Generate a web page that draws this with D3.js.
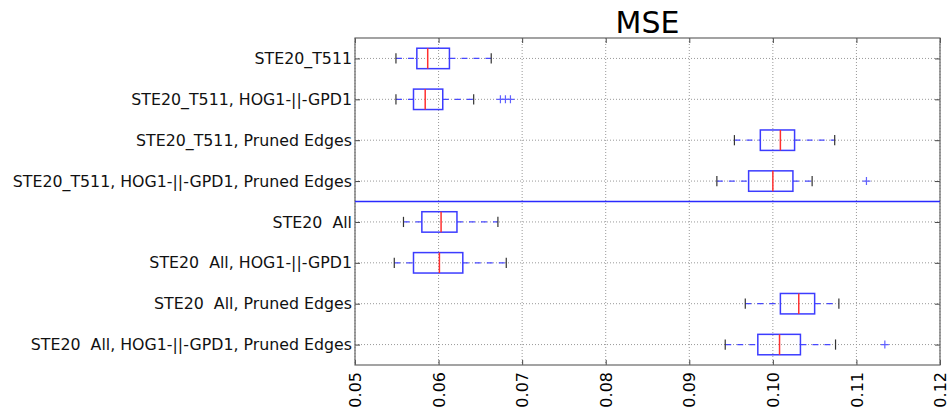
<!DOCTYPE html>
<html>
<head>
<meta charset="utf-8">
<script src="https://cdn.jsdelivr.net/npm/d3@7"></script>
<style>
body { margin: 0; background: #fff; }
text { font-family: "DejaVu Sans", sans-serif; white-space: pre; }
</style>
</head>
<body>
<div id="chart"></div>
<script>
var width = 949, height = 414;
var margin = {top: 38, right: 9, bottom: 49, left: 355};

// categories, top to bottom
var labels = [
  "STE20_T511",
  "STE20_T511, HOG1-||-GPD1",
  "STE20_T511, Pruned Edges",
  "STE20_T511, HOG1-||-GPD1, Pruned Edges",
  "STE20  All",
  "STE20  All, HOG1-||-GPD1",
  "STE20  All, Pruned Edges",
  "STE20  All, HOG1-||-GPD1, Pruned Edges"
];
// box stats
var whiskLow  = [0.0549, 0.0549, 0.0954, 0.0933, 0.0558, 0.0547, 0.0967, 0.0943];
var q1        = [0.0574, 0.0570, 0.0985, 0.0971, 0.0580, 0.0570, 0.1009, 0.0982];
var median    = [0.0587, 0.0584, 0.1009, 0.1000, 0.0603, 0.0601, 0.1031, 0.1008];
var q3        = [0.0613, 0.0605, 0.1026, 0.1024, 0.0622, 0.0629, 0.1050, 0.1033];
var whiskHigh = [0.0663, 0.0642, 0.1074, 0.1047, 0.0671, 0.0681, 0.1079, 0.1075];
var fliers    = [[], [0.0674, 0.0680, 0.0686], [], [0.1112], [], [], [], [0.1134]];
var xTicks = [0.05, 0.06, 0.07, 0.08, 0.09, 0.10, 0.11, 0.12];
var dividerAt = 4.5;

var data = labels.map(function(l, i) {
  return {label: l, pos: i + 1, lo: whiskLow[i], q1: q1[i], med: median[i],
          q3: q3[i], hi: whiskHigh[i], fl: fliers[i]};
});

var w = width - margin.left - margin.right;
var h = height - margin.top - margin.bottom;

var x = d3.scaleLinear().domain([0.05, 0.12]).range([0, w]);
var y = d3.scaleLinear().domain([0.5, 8.5]).range([0, h]);

var svg = d3.select("#chart").append("svg")
    .attr("width", width)
    .attr("height", height);
var g = svg.append("g")
    .attr("transform", "translate(" + margin.left + "," + margin.top + ")");

// grid
g.selectAll(".gx").data(xTicks).enter().append("line")
    .attr("x1", function(d) { return x(d); }).attr("x2", function(d) { return x(d); })
    .attr("y1", 0).attr("y2", h)
    .attr("stroke", "#999").attr("stroke-width", 1).attr("stroke-dasharray", "1,2");
g.selectAll(".gy").data(data).enter().append("line")
    .attr("x1", 0).attr("x2", w)
    .attr("y1", function(d) { return y(d.pos); }).attr("y2", function(d) { return y(d.pos); })
    .attr("stroke", "#999").attr("stroke-width", 1).attr("stroke-dasharray", "1,2");

// axes
var xAxis = g.append("g").attr("transform", "translate(0," + h + ")")
    .call(d3.axisBottom(x).tickValues(xTicks).tickFormat(d3.format(".2f")).tickSizeInner(-5).tickSizeOuter(0));
xAxis.selectAll("text")
    .attr("transform", "rotate(-90)")
    .attr("x", -7).attr("y", 0).attr("dy", "0.35em")
    .style("text-anchor", "end")
    .style("font-size", "16px").attr("fill", "#000");
var xTop = g.append("g")
    .call(d3.axisTop(x).tickValues(xTicks).tickSizeInner(-5).tickSizeOuter(0).tickFormat(""));

var yAxis = g.append("g")
    .call(d3.axisLeft(y).tickValues(data.map(function(d) { return d.pos; }))
      .tickFormat(function(d, i) { return labels[i]; }).tickSizeInner(-5).tickSizeOuter(0));
yAxis.selectAll("text").attr("x", -3).style("font-size", "15.8px").attr("fill", "#111");
var yRight = g.append("g").attr("transform", "translate(" + w + ",0)")
    .call(d3.axisRight(y).tickValues(data.map(function(d) { return d.pos; }))
      .tickSizeInner(-5).tickSizeOuter(0).tickFormat(""));

svg.selectAll(".domain").remove();
svg.selectAll(".tick line").attr("stroke", "#444");

// frame
g.append("rect").attr("x", 0).attr("y", 0).attr("width", w).attr("height", h)
    .attr("fill", "none").attr("stroke", "#666").attr("stroke-width", 1.2);

// boxes
var bh = y(1.25) - y(1);
var cap = y(1.125) - y(1);
var boxes = g.selectAll(".box").data(data).enter().append("g");

boxes.append("line")
    .attr("x1", function(d) { return x(d.lo); }).attr("x2", function(d) { return x(d.q1); })
    .attr("y1", function(d) { return y(d.pos); }).attr("y2", function(d) { return y(d.pos); })
    .style("stroke", "#4848ff").attr("stroke-width", 1.2).attr("stroke-dasharray", "6,6");
boxes.append("line")
    .attr("x1", function(d) { return x(d.q3); }).attr("x2", function(d) { return x(d.hi); })
    .attr("y1", function(d) { return y(d.pos); }).attr("y2", function(d) { return y(d.pos); })
    .style("stroke", "#4848ff").attr("stroke-width", 1.2).attr("stroke-dasharray", "6,6");
boxes.append("line")
    .attr("x1", function(d) { return x(d.lo); }).attr("x2", function(d) { return x(d.lo); })
    .attr("y1", function(d) { return y(d.pos) - cap; }).attr("y2", function(d) { return y(d.pos) + cap; })
    .style("stroke", "#333").attr("stroke-width", 1.2);
boxes.append("line")
    .attr("x1", function(d) { return x(d.hi); }).attr("x2", function(d) { return x(d.hi); })
    .attr("y1", function(d) { return y(d.pos) - cap; }).attr("y2", function(d) { return y(d.pos) + cap; })
    .style("stroke", "#333").attr("stroke-width", 1.2);
boxes.append("rect")
    .attr("x", function(d) { return x(d.q1); })
    .attr("y", function(d) { return y(d.pos) - bh; })
    .attr("width", function(d) { return x(d.q3) - x(d.q1); })
    .attr("height", 2 * bh)
    .style("fill", "none").style("stroke", "#3c3cff").attr("stroke-width", 1.5);
boxes.append("line")
    .attr("x1", function(d) { return x(d.med); }).attr("x2", function(d) { return x(d.med); })
    .attr("y1", function(d) { return y(d.pos) - bh; }).attr("y2", function(d) { return y(d.pos) + bh; })
    .style("stroke", "#ff3030").attr("stroke-width", 1.5);

// fliers as '+'
boxes.each(function(d) {
  var sel = d3.select(this);
  d.fl.forEach(function(v) {
    sel.append("path")
      .attr("d", "M" + (x(v) - 4) + "," + y(d.pos) + "h8M" + x(v) + "," + (y(d.pos) - 4) + "v8")
      .style("stroke", "#6060ff").attr("stroke-width", 1.2);
  });
});

// divider
g.append("line").attr("x1", 0).attr("x2", w)
    .attr("y1", y(dividerAt)).attr("y2", y(dividerAt))
    .style("stroke", "#2a2aff").attr("stroke-width", 1.5);

// title
svg.append("text").attr("x", margin.left + w / 2).attr("y", 33)
    .attr("text-anchor", "middle").style("font-size", "30px").text("MSE");
</script>
</body>
</html>
